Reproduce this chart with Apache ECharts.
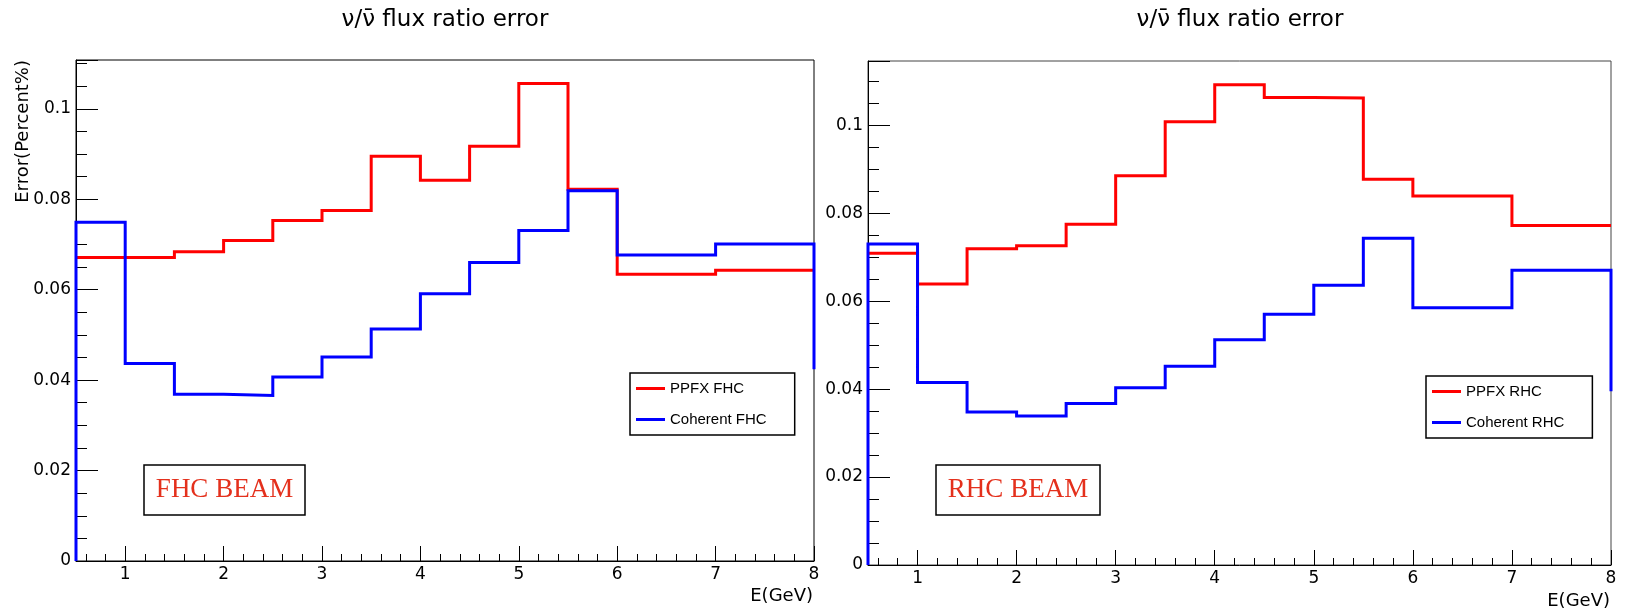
<!DOCTYPE html>
<html>
<head>
<meta charset="utf-8">
<title>nu / nubar flux ratio error</title>
<script src="https://cdn.jsdelivr.net/npm/echarts@6/dist/echarts.min.js"></script>
<style>
  html, body { margin: 0; padding: 0; background: #fff; }
  #chart { width: 1625px; height: 613px; }
</style>
</head>
<body>
<div id="chart"></div>
<script>
// bin edges in E(GeV), shared by both panels
const energyEdges = [0.5, 1, 1.5, 2, 2.5, 3, 3.5, 4, 4.5, 5, 5.5, 6, 7, 8]

// FHC panel
const fhcPpfx = [0.0671, 0.0671, 0.0684, 0.0709, 0.0753, 0.0775, 0.0895, 0.0842, 0.0917, 0.1056, 0.0822, 0.0634, 0.0643]
const fhcCoherent = [0.0749, 0.0437, 0.0369, 0.0366, 0.0407, 0.0451, 0.0513, 0.0591, 0.0660, 0.0731, 0.0819, 0.0677, 0.0701]
const fhcCoherentEndDrop = 0.0424
const fhcYMax = 0.1108

// RHC panel
const rhcPpfx = [0.0709, 0.0639, 0.0719, 0.0726, 0.0775, 0.0885, 0.1008, 0.1092, 0.1063, 0.1062, 0.0877, 0.0839, 0.0772]
const rhcCoherent = [0.0730, 0.0415, 0.0348, 0.0339, 0.0367, 0.0403, 0.0452, 0.0512, 0.0570, 0.0636, 0.0743, 0.0585, 0.0670]
const rhcCoherentEndDrop = 0.0395
const rhcYMax = 0.1146

const yTickStep = 0.02
const titleText = 'ν/ν\u0304 flux ratio error'

// outline of a histogram as a step path through the bin edges
function histPath(values, fromZero, endDrop) {
  const pts = []
  if (fromZero) pts.push([energyEdges[0], 0])
  values.forEach((v, i) => {
    pts.push([energyEdges[i], v])
    pts.push([energyEdges[i + 1], v])
  })
  if (endDrop != null) pts.push([energyEdges[energyEdges.length - 1], endDrop])
  return pts
}

function xAxisFor(gridIndex, nameTop) {
  return {
    type: 'value',
    gridIndex,
    min: energyEdges[0],
    max: energyEdges[energyEdges.length - 1],
    splitNumber: 8,
    minInterval: 1,
    maxInterval: 1,
    name: 'E(GeV)',
    nameLocation: 'end',
    nameGap: -1,
    nameTextStyle: {
      align: 'right',
      verticalAlign: 'top',
      padding: [nameTop, 0, 0, 0],
      fontFamily: 'DejaVu Sans',
      fontSize: 18,
      color: '#000',
    },
    axisLine: { onZero: false, lineStyle: { color: '#000', width: 1 } },
    axisTick: { inside: true, length: 15, lineStyle: { color: '#000' } },
    minorTick: { show: true, splitNumber: 5, length: 7, lineStyle: { color: '#000' } },
    axisLabel: {
      margin: 5,
      fontFamily: 'DejaVu Sans',
      fontSize: 17,
      color: '#000',
      formatter: (v) => (Number.isInteger(v) ? String(v) : ''),
    },
    splitLine: { show: false },
  }
}

function yAxisFor(gridIndex, yMax) {
  return {
    type: 'value',
    gridIndex,
    min: 0,
    max: yMax,
    splitNumber: 5,
    minInterval: yTickStep,
    maxInterval: yTickStep,
    axisLine: { onZero: false, lineStyle: { color: '#000', width: 1 } },
    axisTick: { inside: true, length: 22, lineStyle: { color: '#000' } },
    minorTick: { show: true, splitNumber: 4, length: 11, lineStyle: { color: '#000' } },
    axisLabel: {
      margin: 5,
      fontFamily: 'DejaVu Sans',
      fontSize: 17,
      color: '#000',
      formatter: (v) => {
        const k = v / yTickStep
        return Math.abs(k - Math.round(k)) < 1e-6 ? String(+v.toFixed(2)) : ''
      },
    },
    splitLine: { show: false },
  }
}

function histSeries(name, color, gridIndex, data) {
  return {
    name,
    type: 'line',
    xAxisIndex: gridIndex,
    yAxisIndex: gridIndex,
    data,
    symbol: 'none',
    clip: false,
    color,
    itemStyle: { color },
    lineStyle: { color, width: 3, join: 'miter' },
  }
}

function legendFor(names, left, top) {
  return {
    data: names,
    orient: 'vertical',
    left,
    top,
    padding: [8, 28, 8, 6],
    itemGap: 16,
    itemWidth: 29,
    itemHeight: 3,
    itemTextGap: 6,
    icon: 'rect',
    backgroundColor: '#fff',
    borderColor: '#000',
    borderWidth: 1.5,
    borderRadius: 0,
    selectedMode: false,
    textStyle: { fontFamily: 'Liberation Sans', fontSize: 15, color: '#000' },
  }
}

function beamLabel(text, x, y, w, h) {
  return {
    type: 'group',
    z: 10,
    children: [
      {
        type: 'rect',
        shape: { x, y, width: w, height: h },
        style: { fill: '#fff', stroke: '#000', lineWidth: 1.5 },
      },
      {
        type: 'text',
        x: x + w / 2,
        y: y + h / 2,
        style: {
          text,
          fill: '#e4301c',
          font: '27px "Liberation Serif", "Times New Roman", serif',
          align: 'center',
          verticalAlign: 'middle',
        },
      },
    ],
  }
}

const chart = echarts.init(document.getElementById('chart'))

chart.setOption({
  animation: false,
  backgroundColor: '#fff',
  title: [
    {
      text: titleText,
      left: 445,
      top: 9,
      padding: 0,
      textAlign: 'center',
      textStyle: { fontFamily: 'DejaVu Sans', fontSize: 23, fontWeight: 'normal', color: '#000' },
    },
    {
      text: titleText,
      left: 1240,
      top: 9,
      padding: 0,
      textAlign: 'center',
      textStyle: { fontFamily: 'DejaVu Sans', fontSize: 23, fontWeight: 'normal', color: '#000' },
    },
  ],
  grid: [
    { left: 76, top: 60, width: 738, height: 501, show: true, borderColor: '#000', borderWidth: 1, backgroundColor: 'transparent' },
    { left: 868, top: 61, width: 743, height: 504, show: true, borderColor: '#444', borderWidth: 1, backgroundColor: 'transparent' },
  ],
  xAxis: [xAxisFor(0, 26), xAxisFor(1, 27)],
  yAxis: [yAxisFor(0, fhcYMax), yAxisFor(1, rhcYMax)],
  legend: [
    legendFor(['PPFX FHC', 'Coherent FHC'], 630, 373),
    legendFor(['PPFX RHC', 'Coherent RHC'], 1426, 376),
  ],
  series: [
    histSeries('PPFX FHC', '#ff0000', 0, histPath(fhcPpfx, false, null)),
    histSeries('Coherent FHC', '#0000ff', 0, histPath(fhcCoherent, true, fhcCoherentEndDrop)),
    histSeries('PPFX RHC', '#ff0000', 1, histPath(rhcPpfx, false, null)),
    histSeries('Coherent RHC', '#0000ff', 1, histPath(rhcCoherent, true, rhcCoherentEndDrop)),
  ],
  graphic: [
    {
      type: 'text',
      x: 23,
      y: 60,
      rotation: Math.PI / 2,
      style: {
        text: 'Error(Percent%)',
        fill: '#000',
        font: '18px "DejaVu Sans", sans-serif',
        align: 'right',
        verticalAlign: 'middle',
      },
    },
    beamLabel('FHC BEAM', 144, 465, 161, 50),
    beamLabel('RHC BEAM', 936, 465, 164, 50),
  ],
})

window.addEventListener('resize', () => chart.resize())
</script>
</body>
</html>
